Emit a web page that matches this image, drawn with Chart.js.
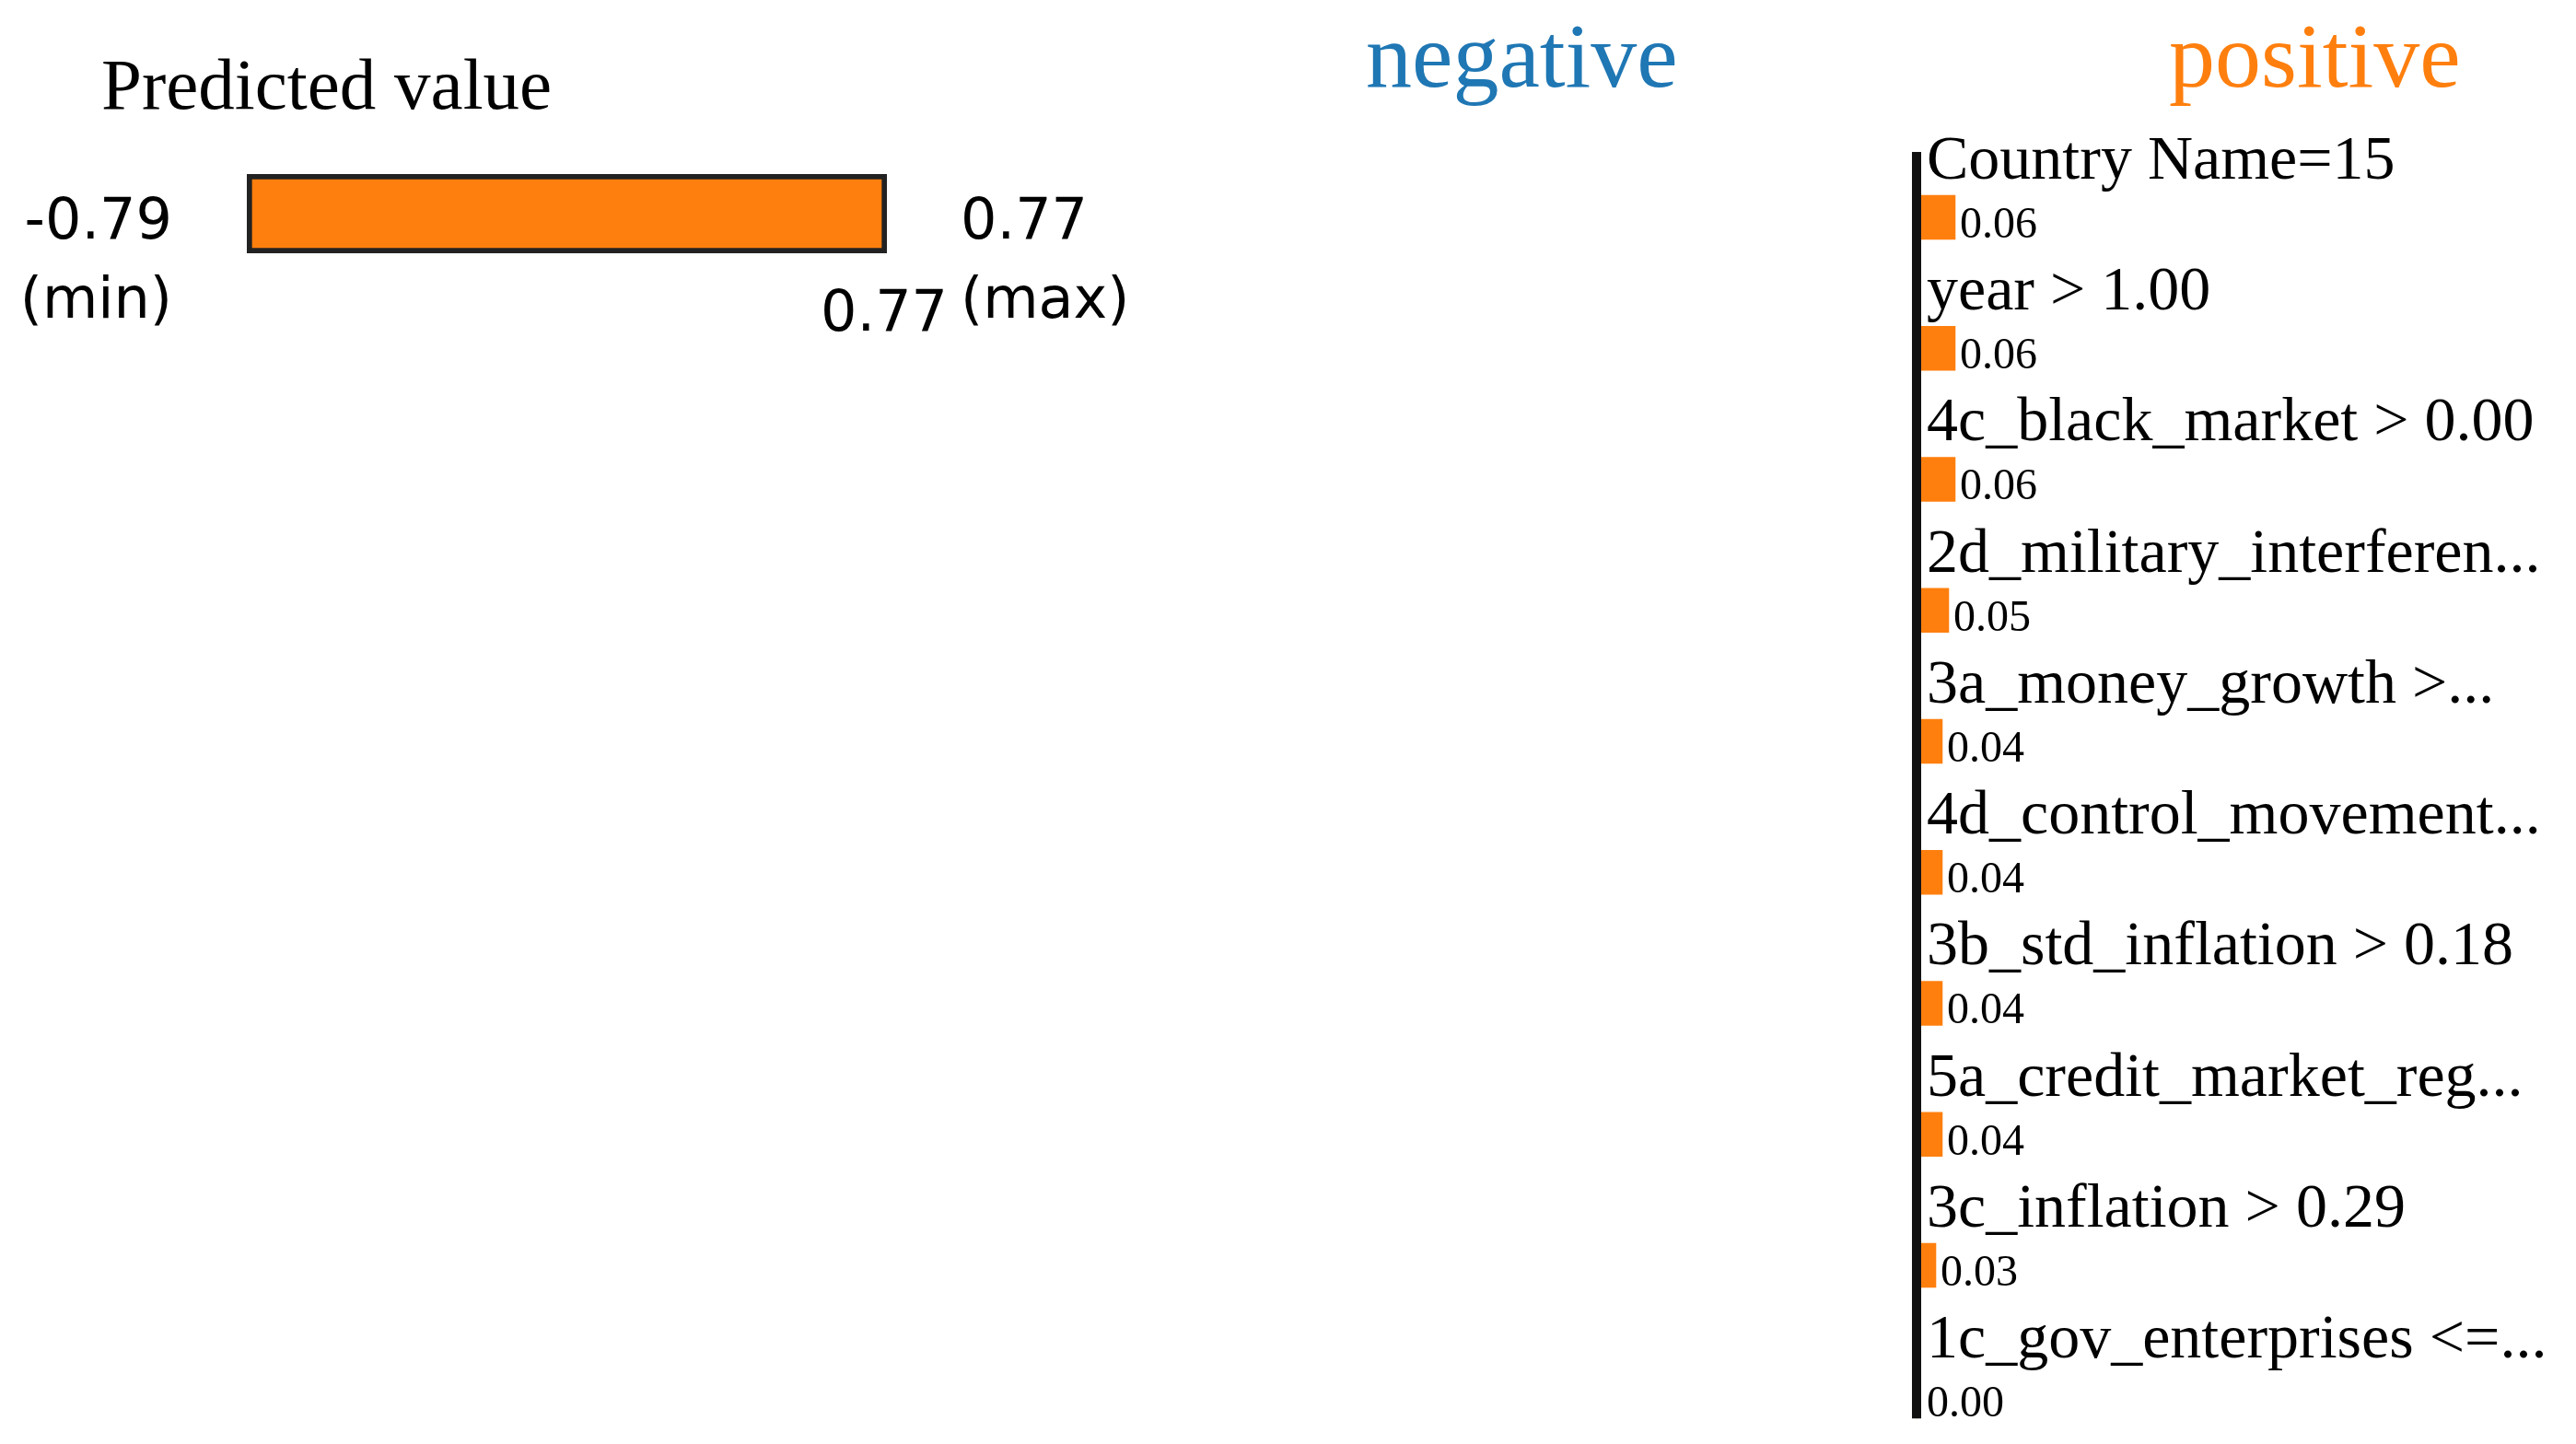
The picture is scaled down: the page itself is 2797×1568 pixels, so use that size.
<!DOCTYPE html>
<html>
<head>
<meta charset="utf-8">
<script src="https://cdn.jsdelivr.net/npm/chart.js"></script>
<style>
  html, body { margin: 0; background: #fff; }
  body { width: 2797px; height: 1568px; position: relative; overflow: hidden; }
  .hd { position: absolute; font-family: 'Liberation Serif', 'Times New Roman', serif; line-height: 1; white-space: nowrap; }
  #predTitle { left: 110px; top: 52px; font-size: 79px; color: #000; }
  #negTitle { left: 1483px; top: 11px; font-size: 100px; color: #1f77b4; }
  #posTitle { left: 2355px; top: 11px; font-size: 100px; color: #ff7f0e; }
  #predBox { position: absolute; left: 0; top: 0; width: 1250px; height: 420px; }
  #featBox { position: absolute; left: 2051px; top: 0; width: 746px; height: 1568px; }
</style>
</head>
<body>
<div class="hd" id="predTitle">Predicted value</div>
<div class="hd" id="negTitle">negative</div>
<div class="hd" id="posTitle">positive</div>
<div id="predBox"><canvas id="predChart"></canvas></div>
<div id="featBox"><canvas id="featChart"></canvas></div>

<script>
// predicted value: [min, max] of the model output and the value for this instance
const predRange = [-0.79, 0.77];
const predValue = [0.77];

// feature weights (all on the positive side)
const featureLabels = [
    'Country Name=15',
    'year > 1.00',
    '4c_black_market > 0.00',
    '2d_military_interferen...',
    '3a_money_growth >...',
    '4d_control_movement...',
    '3b_std_inflation > 0.18',
    '5a_credit_market_reg...',
    '3c_inflation > 0.29',
    '1c_gov_enterprises <=...'
];
const featureWeights = [0.06, 0.06, 0.06, 0.05, 0.04, 0.04, 0.04, 0.04, 0.03, 0.00];

const ORANGE = '#ff7f0e';
const fmt = v => v.toFixed(2);

// min / max / value labels round the predicted-value bar
const predDecor = {
    id: 'predDecor',
    afterDatasetsDraw(chart) {
        const { ctx, chartArea, scales: { x } } = chart;
        const bar = chart.getDatasetMeta(0).data[0];
        const cy = bar.y;
        ctx.save();
        ctx.font = '62px "DejaVu Sans"';
        ctx.fillStyle = '#000';
        ctx.textBaseline = 'alphabetic';
        ctx.textAlign = 'right';
        ctx.fillText(fmt(predRange[0]), chartArea.left - 81, cy + 27);
        ctx.fillText('(min)', chartArea.left - 81, cy + 113);
        ctx.textAlign = 'left';
        ctx.fillText(fmt(predRange[1]), chartArea.right + 80, cy + 27);
        ctx.fillText('(max)', chartArea.right + 80, cy + 113);
        ctx.textAlign = 'center';
        ctx.fillText(fmt(predValue[0]), x.getPixelForValue(predValue[0]) - 3, cy + 127);
        ctx.restore();
    }
};

// value text beside each bar, then the zero line drawn over the bar roots
const featureDecor = {
    id: 'featureDecor',
    afterDatasetsDraw(chart) {
        const { ctx, scales: { x, y } } = chart;
        const meta = chart.getDatasetMeta(0);
        const zero = x.getPixelForValue(0);
        const half = (y.getPixelForValue(1) - y.getPixelForValue(0)) / 2;
        const last = meta.data[meta.data.length - 1];
        ctx.save();
        ctx.font = '48px "Liberation Serif"';
        ctx.fillStyle = '#000';
        ctx.textBaseline = 'alphabetic';
        ctx.textAlign = 'left';
        meta.data.forEach((bar, i) => {
            const from = Math.max(bar.x, zero + 6);
            ctx.fillText(fmt(featureWeights[i]), from + 5, bar.y + 22);
        });
        ctx.strokeStyle = '#111';
        ctx.lineWidth = 10;
        ctx.beginPath();
        ctx.moveTo(zero, y.getPixelForValue(0) - half);
        ctx.lineTo(zero, last.y + last.height / 2);
        ctx.stroke();
        ctx.restore();
    }
};

new Chart(document.getElementById('predChart'), {
    type: 'bar',
    data: {
        labels: [''],
        datasets: [{
            data: [[predRange[0], predValue[0]]],
            backgroundColor: ORANGE, borderColor: '#222', borderWidth: 6, borderSkipped: false,
            barPercentage: 1, categoryPercentage: 1
        }]
    },
    options: {
        indexAxis: 'y', animation: false, responsive: true, maintainAspectRatio: false,
        layout: { padding: { left: 268, right: 287, top: 189, bottom: 145 } },
        plugins: { legend: { display: false }, tooltip: { enabled: false } },
        scales: {
            x: { display: false, min: predRange[0], max: predRange[1] },
            y: { display: false }
        }
    },
    plugins: [predDecor]
});

new Chart(document.getElementById('featChart'), {
    type: 'bar',
    data: {
        labels: featureLabels,
        datasets: [{ data: featureWeights, backgroundColor: ORANGE, barThickness: 48, clip: false }]
    },
    options: {
        indexAxis: 'y', animation: false, responsive: true, maintainAspectRatio: false,
        layout: { padding: { left: 0, right: 17, top: 236, bottom: 49 } },
        plugins: { legend: { display: false }, tooltip: { enabled: false } },
        scales: {
            x: { display: false, min: 0, max: 1 },
            y: {
                offset: false,
                grid: { display: false },
                border: { display: false },
                ticks: {
                    mirror: true, padding: 11, labelOffset: -60, autoSkip: false, color: '#000',
                    font: { family: 'Liberation Serif', size: 68 }
                }
            }
        }
    },
    plugins: [featureDecor]
});
</script>
</body>
</html>
